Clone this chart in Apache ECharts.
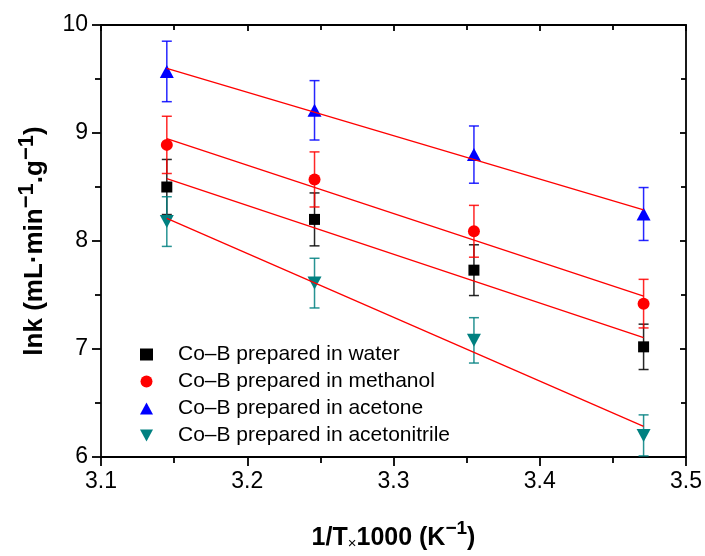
<!DOCTYPE html>
<html>
<head>
<meta charset="utf-8">
<script src="https://cdn.jsdelivr.net/npm/echarts@6/dist/echarts.min.js"></script>
<style>
  html, body { margin: 0; padding: 0; background: #fff; }
  #chart { width: 705px; height: 556px; }
</style>
</head>
<body>
<div id="chart"></div>
<script>
// 1/T x 1000 (K^-1) for the four reaction temperatures
const invTemp = [3.145, 3.246, 3.355, 3.471];

const seriesNames = [
  'Co–B prepared in water',
  'Co–B prepared in methanol',
  'Co–B prepared in acetone',
  'Co–B prepared in acetonitrile'
];

// ln k values and their error-bar half widths
const waterLnK = [8.50, 8.20, 7.73, 7.02];
const waterErr = [0.255, 0.245, 0.235, 0.21];
const methanolLnK = [8.89, 8.57, 8.09, 7.42];
const methanolErr = [0.265, 0.255, 0.24, 0.225];
const acetoneLnK = [9.57, 9.21, 8.80, 8.25];
const acetoneErr = [0.28, 0.275, 0.265, 0.245];
const acetonitrileLnK = [8.18, 7.61, 7.08, 6.20];
const acetonitrileErr = [0.23, 0.23, 0.21, 0.19];

// Arrhenius fit lines: ln k at the first and last temperature
const waterFit = [8.578, 7.106];
const methanolFit = [8.949, 7.490];
const acetoneFit = [9.598, 8.288];
const acetonitrileFit = [8.210, 6.283];

const xTicks = { min: 3.1, max: 3.5, step: 0.1 };
const yTicks = { min: 6, max: 10, step: 1 };

const groups = [
  { name: seriesNames[0], y: waterLnK, err: waterErr, fit: waterFit, color: '#000000', symbol: 'rect', size: [11, 11], rotate: 0 },
  { name: seriesNames[1], y: methanolLnK, err: methanolErr, fit: methanolFit, color: '#ff0000', symbol: 'circle', size: 12, rotate: 0 },
  { name: seriesNames[2], y: acetoneLnK, err: acetoneErr, fit: acetoneFit, color: '#0000ff', symbol: 'triangle', size: [14, 13], rotate: 0 },
  { name: seriesNames[3], y: acetonitrileLnK, err: acetonitrileErr, fit: acetonitrileFit, color: '#008080', symbol: 'triangle', size: [14, 13], rotate: 180 }
];

const FONT = '"Liberation Sans", Arial, sans-serif';
const AXIS_W = 1.8;

function errorBarSeries(g) {
  return {
    type: 'custom',
    name: g.name + ' error',
    xAxisIndex: 0,
    yAxisIndex: 0,
    z: 2,
    silent: true,
    data: invTemp.map((x, i) => [x, g.y[i] - g.err[i], g.y[i] + g.err[i]]),
    renderItem: function (params, api) {
      const lo = api.coord([api.value(0), api.value(1)]);
      const hi = api.coord([api.value(0), api.value(2)]);
      const cap = 5;
      const style = { stroke: g.color, lineWidth: 1.5, opacity: 0.85 };
      return {
        type: 'group',
        children: [
          { type: 'line', shape: { x1: lo[0], y1: lo[1], x2: hi[0], y2: hi[1] }, style: style },
          { type: 'line', shape: { x1: lo[0] - cap, y1: lo[1], x2: lo[0] + cap, y2: lo[1] }, style: style },
          { type: 'line', shape: { x1: hi[0] - cap, y1: hi[1], x2: hi[0] + cap, y2: hi[1] }, style: style }
        ]
      };
    }
  };
}

function pointSeries(g) {
  return {
    type: 'scatter',
    name: g.name,
    xAxisIndex: 0,
    yAxisIndex: 0,
    z: 3,
    symbol: g.symbol,
    symbolSize: g.size,
    symbolRotate: g.rotate,
    itemStyle: { color: g.color, opacity: 1 },
    data: invTemp.map((x, i) => [x, g.y[i]])
  };
}

function fitSeries(g) {
  return {
    type: 'line',
    name: g.name + ' fit',
    xAxisIndex: 0,
    yAxisIndex: 0,
    z: 4,
    silent: true,
    symbol: 'none',
    lineStyle: { color: '#ff0000', width: 1.3 },
    data: [[invTemp[0], g.fit[0]], [invTemp[invTemp.length - 1], g.fit[1]]]
  };
}

const series = [];
groups.forEach(g => series.push(errorBarSeries(g)));
groups.forEach(g => series.push(pointSeries(g)));
groups.forEach(g => series.push(fitSeries(g)));

const axisLine = { show: true, onZero: false, lineStyle: { color: '#000', width: AXIS_W } };
const tickStyle = { color: '#000', width: AXIS_W };

// legend entries; the downward triangle gets its own icon
const legendData = groups.map(g => g.rotate === 180
  ? { name: g.name, icon: 'path://M0,0L12,0L6,11Z' }
  : { name: g.name });

const xTitleRich = {
  b: { fontFamily: FONT, fontWeight: 'bold', fontSize: 25, color: '#000', lineHeight: 32, verticalAlign: 'bottom' },
  m: { fontFamily: FONT, fontSize: 15, color: '#000', lineHeight: 26, verticalAlign: 'bottom' },
  s: { fontFamily: FONT, fontWeight: 'bold', fontSize: 19, color: '#000', lineHeight: 14, verticalAlign: 'top' }
};
const yTitleRich = {
  b: { fontFamily: FONT, fontWeight: 'bold', fontSize: 26, color: '#000', lineHeight: 32, verticalAlign: 'bottom' },
  s: { fontFamily: FONT, fontWeight: 'bold', fontSize: 22, color: '#000', lineHeight: 14, verticalAlign: 'top' }
};

const chart = echarts.init(document.getElementById('chart'), null, { renderer: 'canvas' });
chart.setOption({
  animation: false,
  backgroundColor: '#fff',
  textStyle: { fontFamily: FONT },
  grid: { left: 101, right: 19, top: 25, bottom: 98, containLabel: false },
  legend: {
    data: legendData,
    orient: 'vertical',
    left: 135,
    top: 339,
    itemWidth: 13,
    itemHeight: 12,
    itemGap: 6,
    selectedMode: false,
    textStyle: { fontFamily: FONT, fontSize: 21, lineHeight: 21, color: '#000', padding: [0, 0, 0, 20] }
  },
  xAxis: [
    {
      type: 'value', position: 'bottom',
      min: xTicks.min, max: xTicks.max, interval: xTicks.step,
      axisLine: axisLine,
      axisTick: { show: true, inside: false, length: 9, lineStyle: tickStyle },
      minorTick: { show: true, splitNumber: 2, length: 6, lineStyle: tickStyle },
      splitLine: { show: false },
      axisLabel: { fontSize: 23, color: '#000', margin: 13, fontFamily: FONT, formatter: v => v.toFixed(1) },
      name: '{b|1/T}{m|×}{b|1000 (K}{s|−1}{b|)}',
      nameLocation: 'middle',
      nameGap: 62,
      nameTextStyle: { rich: xTitleRich }
    },
    {
      type: 'value', position: 'top',
      min: xTicks.min, max: xTicks.max, interval: xTicks.step,
      axisLine: axisLine,
      axisTick: { show: true, inside: true, length: 6, lineStyle: tickStyle },
      minorTick: { show: true, splitNumber: 2, length: 5, lineStyle: tickStyle },
      splitLine: { show: false },
      axisLabel: { show: false }
    }
  ],
  yAxis: [
    {
      type: 'value', position: 'left',
      min: yTicks.min, max: yTicks.max, interval: yTicks.step,
      axisLine: axisLine,
      axisTick: { show: true, inside: false, length: 9, lineStyle: tickStyle },
      minorTick: { show: true, splitNumber: 2, length: 6, lineStyle: tickStyle },
      splitLine: { show: false },
      axisLabel: { fontSize: 23, color: '#000', margin: 13, fontFamily: FONT },
      name: '{b|lnk (mL·min}{s|−1}{b|.g}{s|−1}{b|)}',
      nameLocation: 'middle',
      nameGap: 53,
      nameRotate: 90,
      nameTextStyle: { rich: yTitleRich }
    },
    {
      type: 'value', position: 'right',
      min: yTicks.min, max: yTicks.max, interval: yTicks.step,
      axisLine: axisLine,
      axisTick: { show: true, inside: true, length: 6, lineStyle: tickStyle },
      minorTick: { show: true, splitNumber: 2, length: 5, lineStyle: tickStyle },
      splitLine: { show: false },
      axisLabel: { show: false }
    }
  ],
  series: series
});
</script>
</body>
</html>
